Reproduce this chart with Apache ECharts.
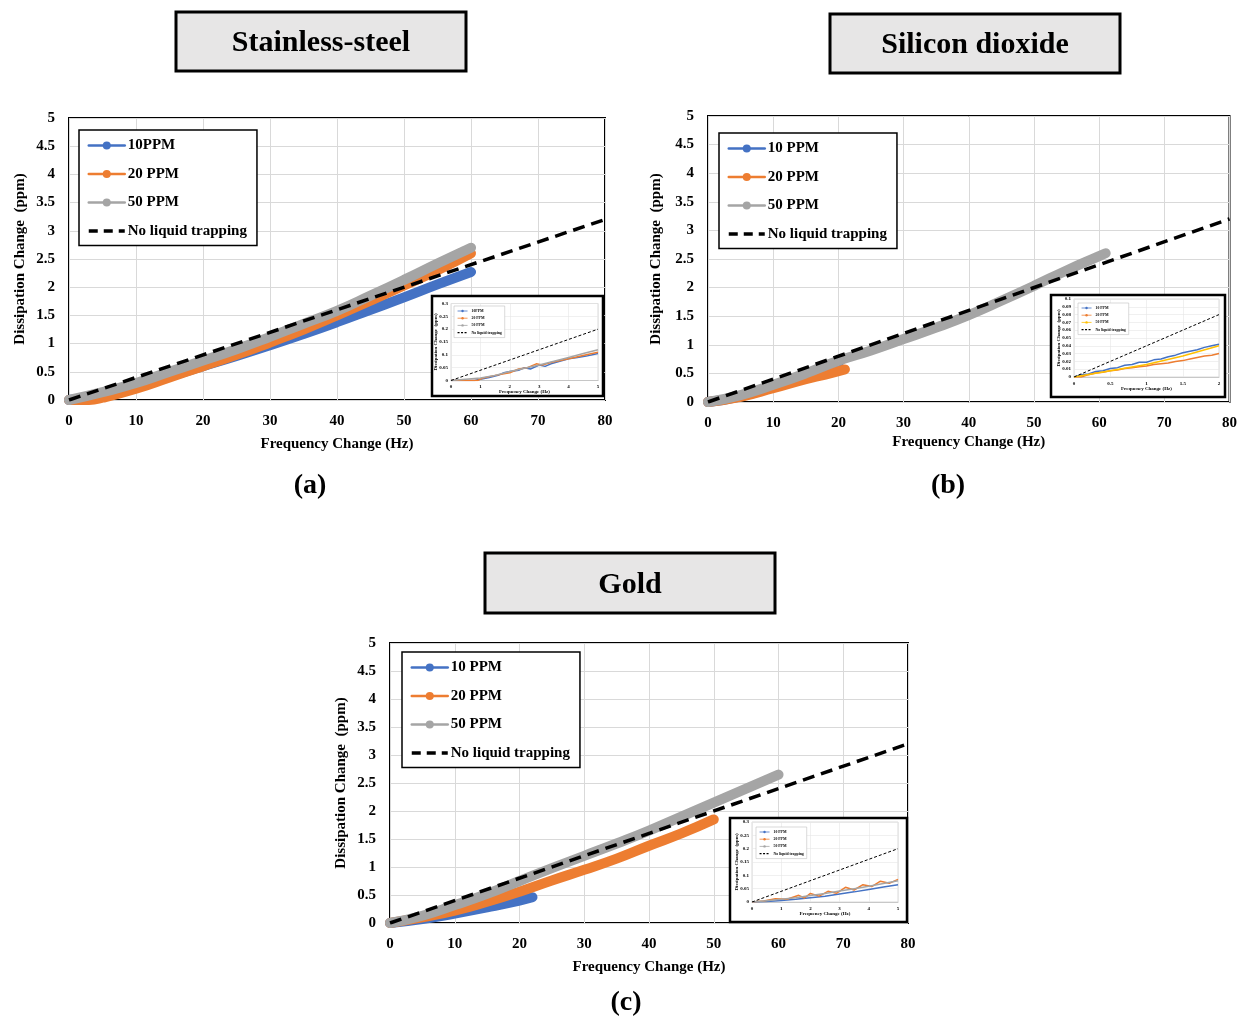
<!DOCTYPE html>
<html><head><meta charset="utf-8">
<script src="https://cdn.jsdelivr.net/npm/echarts@6/dist/echarts.min.js"></script>
<style>html,body{margin:0;padding:0;background:#fff}#c{width:1240px;height:1018px}</style>
</head><body><div id="c"></div>
<script>
// ---------- DATA ----------
// No-liquid-trapping reference line (main panels)
var refMainX = [0, 80], refMainY = [0, 3.2];
// (a) Stainless-steel
var aX10 = [0,5,10,15,20,25,30,35,40,45,50,55,60];
var aY10 = [0,0.1,0.25,0.42,0.6,0.78,0.97,1.17,1.38,1.6,1.82,2.05,2.27];
var aX20 = [0,3,5,10,15,20,25,30,35,40,45,50,55,60];
var aY20 = [0,0,0.04,0.2,0.4,0.6,0.8,1.02,1.25,1.5,1.76,2.03,2.3,2.6];
var aX50 = [0,5,10,15,20,25,30,35,40,45,50,55,60];
var aY50 = [0,0.14,0.3,0.5,0.7,0.9,1.12,1.35,1.58,1.85,2.13,2.42,2.7];
// (b) Silicon dioxide
var bX10 = [0,5,10,15,20];
var bY10 = [0,0.1,0.27,0.45,0.64];
var bX20 = [0,5,10,15,18,21];
var bY20 = [0,0.09,0.24,0.4,0.48,0.57];
var bX50 = [0,5,10,15,20,25,30,35,40,45,50,55,60,61];
var bY50 = [0,0.12,0.3,0.5,0.72,0.9,1.1,1.3,1.52,1.77,2.03,2.3,2.55,2.6];
// (c) Gold
var cX10 = [0,5,10,15,20,22];
var cY10 = [0,0.07,0.17,0.28,0.4,0.46];
var cX20 = [0,5,10,15,20,25,30,35,40,45,50];
var cY20 = [0,0.1,0.22,0.38,0.56,0.76,0.95,1.15,1.38,1.6,1.85];
var cX50 = [0,5,10,15,20,25,30,35,40,45,50,55,60];
var cY50 = [0,0.13,0.32,0.52,0.75,0.98,1.2,1.42,1.65,1.9,2.15,2.4,2.65];
// Insets
var refInAX = [0,5], refInAY = [0,0.2];
var iaX10 = [0,0.5,0.8,1,1.3,1.6,1.8,2,2.3,2.5,2.7,3,3.2,3.4,3.7,4,4.3,4.6,5];
var iaY10 = [0,0,0,0.005,0.012,0.02,0.03,0.035,0.04,0.05,0.045,0.06,0.055,0.065,0.075,0.085,0.09,0.095,0.105];
var iaX20 = [0,0.3,0.9,1.1,1.5,2,2.3,2.6,2.9,3.1,3.4,3.8,4.2,4.6,5];
var iaY20 = [0,0,0,0.01,0.02,0.03,0.045,0.05,0.065,0.06,0.07,0.08,0.09,0.1,0.11];
var iaX50 = [0,0.5,1,1.5,2,2.5,3,3.5,4,4.5,5];
var iaY50 = [0,0.005,0.01,0.02,0.035,0.048,0.06,0.075,0.09,0.105,0.12];
var refInBX = [0,2], refInBY = [0,0.08];
var ibX10 = [0,0.1,0.2,0.3,0.4,0.5,0.6,0.7,0.8,0.9,1,1.1,1.2,1.3,1.4,1.5,1.6,1.7,1.8,1.9,2];
var ibY10 = [0,0.003,0.004,0.007,0.008,0.011,0.012,0.015,0.016,0.019,0.019,0.022,0.023,0.026,0.028,0.031,0.033,0.035,0.038,0.04,0.042];
var ibX20 = [0,0.1,0.2,0.3,0.4,0.5,0.6,0.7,0.8,0.9,1,1.1,1.2,1.3,1.4,1.5,1.6,1.7,1.8,1.9,2];
var ibY20 = [0,0,0.003,0.005,0.006,0.008,0.009,0.011,0.012,0.013,0.014,0.016,0.017,0.018,0.02,0.021,0.023,0.025,0.027,0.028,0.03];
var ibX50 = [0,0.5,1,1.5,2];
var ibY50 = [0,0.008,0.016,0.027,0.04];
var refInCX = [0,5], refInCY = [0,0.2];
var icX10 = [0,0.5,1,1.5,2,2.5,3,3.5,4,4.5,5];
var icY10 = [0,0.002,0.006,0.01,0.016,0.022,0.03,0.038,0.047,0.056,0.065];
var icX20 = [0,0.4,0.8,1.2,1.6,1.8,2,2.3,2.6,2.9,3.2,3.5,3.8,4.1,4.4,4.7,5];
var icY20 = [0,0.004,0.012,0.01,0.025,0.015,0.032,0.022,0.04,0.033,0.055,0.045,0.065,0.058,0.078,0.07,0.085];
var icX50 = [0,0.5,1,1.5,2,2.5,3,3.5,4,4.5,5];
var icY50 = [0,0.005,0.01,0.016,0.024,0.032,0.041,0.05,0.059,0.069,0.08];

var labels = {
  a10:'10PPM', a20:'20 PPM', a50:'50 PPM', aN:'No liquid trapping',
  b10:'10 PPM', b20:'20 PPM', b50:'50 PPM', bN:'No liquid trapping',
  c10:'10 PPM', c20:'20 PPM', c50:'50 PPM', cN:'No liquid trapping',
  ia10:'10PPM', ia20:'20 PPM', ia50:'50 PPM', iaN:'No liquid trapping',
  ib10:'10 PPM', ib20:'20 PPM', ib50:'50 PPM', ibN:'No liquid trapping',
  ic10:'10 PPM', ic20:'20 PPM', ic50:'50 PPM', icN:'No liquid trapping'
};
// ---------- STYLE ----------
var BLUE = '#4472c4', ORANGE = '#ed7d31', GRAY = '#a5a5a5', YELLOW = '#ffc000';
var FONT = '"Liberation Serif","Times New Roman",serif';
function zip(xs, ys){ return xs.map(function(x,i){ return [x, ys[i]]; }); }

var mainGrids = [
  {left:69, top:118, width:536, height:282, xGap:37, yGap:41},
  {left:708, top:116, width:523, height:286, xGap:33, yGap:44},
  {left:390, top:643, width:518, height:280, xGap:37, yGap:41}
];
var insetGrids = [
  {left:451, top:303.5, width:147, height:77},
  {left:1074, top:299, width:145, height:78},
  {left:752, top:822, width:146, height:80}
];
var grid = [], xAxis = [], yAxis = [], series = [], legend = [];

mainGrids.forEach(function(g){
  grid.push({left:g.left, top:g.top, width:g.width, height:g.height, show:true,
    borderColor:'#000', borderWidth:2, backgroundColor:'#fff', z:0});
});
insetGrids.forEach(function(g){
  grid.push({left:g.left, top:g.top, width:g.width, height:g.height, show:true,
    borderColor:'#d0d0d0', borderWidth:0.8, backgroundColor:'#fff', z:10});
});

function mainX(gi){
  return {gridIndex:gi, type:'value', min:0, max:80, interval:10,
    name:'Frequency Change (Hz)', nameLocation:'middle', nameGap:mainGrids[gi].xGap, nameMoveOverlap:false,
    nameTextStyle:{fontFamily:FONT, fontWeight:'bold', fontSize:15, color:'#000'},
    axisLine:{show:false}, axisTick:{show:false},
    axisLabel:{fontFamily:FONT, fontWeight:'bold', fontSize:15, color:'#000', margin:14},
    splitLine:{show:true, lineStyle:{color:'#d9d9d9', width:1}}};
}
function mainY(gi){
  return {gridIndex:gi, type:'value', min:0, max:5, interval:0.5,
    name:'Dissipation Change  (ppm)', nameLocation:'middle', nameGap:mainGrids[gi].yGap, nameMoveOverlap:false,
    nameTextStyle:{fontFamily:FONT, fontWeight:'bold', fontSize:15, color:'#000'},
    axisLine:{show:false}, axisTick:{show:false},
    axisLabel:{fontFamily:FONT, fontWeight:'bold', fontSize:15, color:'#000', margin:14},
    splitLine:{show:true, lineStyle:{color:'#d9d9d9', width:1}}};
}
function inX(gi, max, interval){
  return {gridIndex:gi, type:'value', min:0, max:max, interval:interval, z:10,
    name:'Frequency Change (Hz)', nameLocation:'middle', nameGap:9, nameMoveOverlap:false,
    nameTextStyle:{fontFamily:FONT, fontWeight:'bold', fontSize:5, color:'#000'},
    axisLine:{show:true, lineStyle:{color:'#bfbfbf', width:0.8}}, axisTick:{show:false},
    axisLabel:{fontFamily:FONT, fontWeight:'bold', fontSize:5, color:'#000', margin:4},
    splitLine:{show:true, lineStyle:{color:'#e6e6e6', width:0.6}}};
}
function inY(gi, max, interval){
  return {gridIndex:gi, type:'value', min:0, max:max, interval:interval, z:10,
    name:'Dissipation Change  (ppm)', nameLocation:'middle', nameGap:13, nameMoveOverlap:false,
    nameTextStyle:{fontFamily:FONT, fontWeight:'bold', fontSize:5, color:'#000'},
    axisLine:{show:false}, axisTick:{show:false},
    axisLabel:{fontFamily:FONT, fontWeight:'bold', fontSize:5, color:'#000', margin:3},
    splitLine:{show:true, lineStyle:{color:'#e6e6e6', width:0.6}}};
}
xAxis.push(mainX(0), mainX(1), mainX(2));
yAxis.push(mainY(0), mainY(1), mainY(2));
xAxis.push(inX(3,5,1), inX(4,2,0.5), inX(5,5,1));
yAxis.push(inY(3,0.3,0.05), inY(4,0.1,0.01), inY(5,0.3,0.05));

function band(name, gi, color, xs, ys){
  series.push({name:name, type:'line', xAxisIndex:gi, yAxisIndex:gi, data:zip(xs,ys),
    smooth:true, symbol:'none', z:2, color:color, itemStyle:{color:color},
    lineStyle:{color:color, width:10, cap:'round', join:'round'}});
}
function dashRef(name, gi, xs, ys, w, dash, z){
  series.push({name:name, type:'line', xAxisIndex:gi, yAxisIndex:gi, data:zip(xs,ys),
    symbol:'none', z:z, color:'#000', itemStyle:{color:'#000'},
    lineStyle:{color:'#000', width:w, type:dash}});
}
function thin(name, gi, color, xs, ys){
  series.push({name:name, type:'line', xAxisIndex:gi, yAxisIndex:gi, data:zip(xs,ys),
    symbol:'none', z:12, color:color, itemStyle:{color:color},
    lineStyle:{color:color, width:1.5}});
}
// main panels
band('a10',0,BLUE,aX10,aY10); band('a20',0,ORANGE,aX20,aY20); band('a50',0,GRAY,aX50,aY50);
dashRef('aN',0,refMainX,refMainY,3.5,[12,7],3);
band('b10',1,BLUE,bX10,bY10); band('b20',1,ORANGE,bX20,bY20); band('b50',1,GRAY,bX50,bY50);
dashRef('bN',1,refMainX,refMainY,3.5,[12,7],3);
band('c10',2,BLUE,cX10,cY10); band('c20',2,ORANGE,cX20,cY20); band('c50',2,GRAY,cX50,cY50);
dashRef('cN',2,refMainX,refMainY,3.5,[12,7],3);
// insets
thin('ia10',3,BLUE,iaX10,iaY10); thin('ia20',3,ORANGE,iaX20,iaY20); thin('ia50',3,GRAY,iaX50,iaY50);
dashRef('iaN',3,refInAX,refInAY,1,[3,2],13);
thin('ib10',4,BLUE,ibX10,ibY10); thin('ib20',4,ORANGE,ibX20,ibY20); thin('ib50',4,YELLOW,ibX50,ibY50);
dashRef('ibN',4,refInBX,refInBY,1,[3,2],13);
thin('ic10',5,BLUE,icX10,icY10); thin('ic20',5,ORANGE,icX20,icY20); thin('ic50',5,GRAY,icX50,icY50);
dashRef('icN',5,refInCX,refInCY,1,[3,2],13);

function mkLegend(prefix, left, top, small){
  var items = ['10','20','50'].map(function(k){
    return {name:prefix+k, lineStyle:{width: small?0.8:2.5, type:'solid'}};
  });
  items.push({name:prefix+'N', itemStyle:{color:'rgba(0,0,0,0)', opacity:0, borderWidth:0},
    lineStyle:{width: small?1.1:3.5, type: small?[2,1.5]:[9,6]}});
  return {data:items, orient:'vertical', left:left, top:top, selectedMode:false,
    z: small?14:6,
    itemWidth: small?10:36, itemHeight: small?3:10, itemGap: small?3.2:13.5,
    padding: small?[3,3,3,3]:[8,10,7,8],
    borderColor: small?'#bfbfbf':'#000', borderWidth: small?0.6:1.5, backgroundColor:'#fff',
    formatter:function(n){ return labels[n]; },
    textStyle:{fontFamily:FONT, fontWeight:'bold', fontSize: small?3.8:15, color:'#000',
      padding: small?[0,0,0,-1]:[0,0,0,-2]}};
}
legend.push(mkLegend('a',79,130,false), mkLegend('b',719,133,false), mkLegend('c',402,652,false));
legend.push(mkLegend('ia',454,306,true), mkLegend('ib',1078,303,true), mkLegend('ic',756,827,true));

function titleBox(x,y,w,h,text){
  return [{type:'rect', shape:{x:x,y:y,width:w,height:h}, z:1,
      style:{fill:'#e7e6e6', stroke:'#000', lineWidth:3}},
    {type:'text', x:x+w/2, y:y+h/2+2, z:2,
      style:{text:text, font:'bold 30px '+FONT, fill:'#000', align:'center', verticalAlign:'middle'}}];
}
function panelLabel(x,y,text){
  return {type:'text', x:x, y:y, z:2,
    style:{text:text, font:'bold 28px '+FONT, fill:'#000', align:'center', verticalAlign:'middle'}};
}
function insetBox(x,y,w,h){
  return {type:'rect', shape:{x:x,y:y,width:w,height:h}, z:5,
    style:{fill:'#fff', stroke:'#000', lineWidth:2.5}};
}
var graphic = [].concat(
  titleBox(176,12,290,59,'Stainless-steel'),
  titleBox(830,14,290,59,'Silicon dioxide'),
  titleBox(485,553,290,60,'Gold'),
  [panelLabel(310,486,'(a)'), panelLabel(948,486,'(b)'), panelLabel(626,1003,'(c)'),
   insetBox(432,296,171,100), insetBox(1051,295,174,102), insetBox(730,818,177,104)]
);

var chart = echarts.init(document.getElementById('c'), null, {renderer:'canvas'});
chart.setOption({
  backgroundColor:'#fff', animation:false,
  grid:grid, xAxis:xAxis, yAxis:yAxis, series:series, legend:legend, graphic:graphic
});
</script></body></html>
